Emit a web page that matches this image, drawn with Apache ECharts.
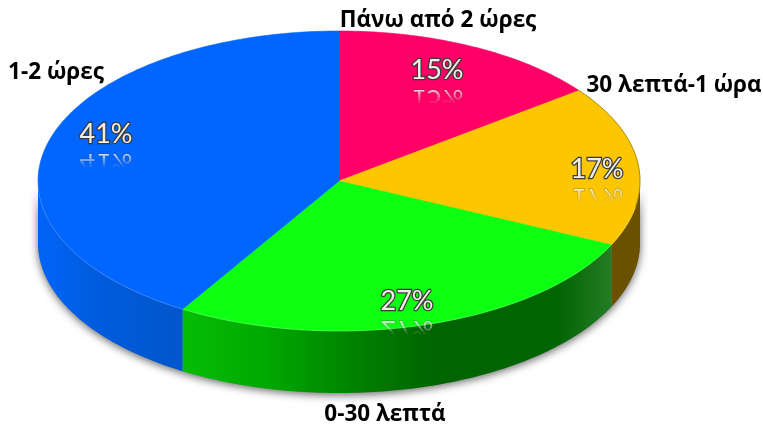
<!DOCTYPE html>
<html>
<head>
<meta charset="utf-8">
<style>
  html, body { margin: 0; padding: 0; background: #fff; }
  #chart { width: 763px; height: 430px; }
</style>
<script src="https://cdn.jsdelivr.net/npm/echarts@6/dist/echarts.min.js"></script>
</head>
<body>
<div id="chart"></div>
<script>
// data, clockwise from 12 o'clock
const categories = ['Πάνω από 2 ώρες', '30 λεπτά-1 ώρα', '0-30 λεπτά', '1-2 ώρες']
const values = [14.7, 17.3, 26.7, 41.3]

const topColors = ['#ff0066', '#fcc700', '#0dff12', '#0066ff']

// tilted disc
const cx = 339
const cy = 181
const rx = 301
const ry = 150
const depth = 62

const namePos = [[438, 21], [674, 86], [385, 415], [56, 73]]
const pctPos = [[437, 70], [597, 169], [407, 301], [106, 134]]

const total = values.reduce((a, b) => a + b, 0)
const chart = echarts.init(document.getElementById('chart'))

function wallFill(i) {
  const grad = (stops) => new echarts.graphic.LinearGradient(38, 0, 640, 0, stops, true)
  if (i === 1) return '#6b5000'
  if (i === 2) {
    return grad([
      { offset: 0.24, color: '#05bd05' },
      { offset: 0.38, color: '#00a800' },
      { offset: 0.55, color: '#007c00' },
      { offset: 0.66, color: '#006400' },
      { offset: 0.86, color: '#006400' },
      { offset: 0.95, color: '#237b23' }
    ])
  }
  if (i === 3) {
    return grad([
      { offset: 0, color: '#0064f8' },
      { offset: 0.1, color: '#005cdc' },
      { offset: 0.24, color: '#0056cc' }
    ])
  }
  return topColors[i]
}

function pt(deg, dy) {
  const a = deg * Math.PI / 180
  return [cx + rx * Math.sin(a), cy - ry * Math.cos(a) + (dy || 0)]
}

function arc(from, to, dy) {
  const pts = []
  const n = Math.max(2, Math.ceil(Math.abs(to - from)))
  for (let k = 0; k <= n; k++) pts.push(pt(from + (to - from) * k / n, dy))
  return pts
}

function pctText(i) {
  const p = pctPos[i]
  const txt = Math.round(values[i] / total * 100) + '%'
  const out = []
  // canvas text takes no gradient, so the mirror fades in clipped bands
  const bands = [0.8, 0.62, 0.45, 0.28, 0.12]
  bands.forEach((alpha, b) => {
    out.push({
      type: 'group',
      clipPath: {
        type: 'rect',
        shape: { x: p[0] - 40, y: p[1] + 18 + b * 3, width: 80, height: 3 }
      },
      children: [{
        type: 'text',
        x: p[0],
        y: p[1] + 29,
        scaleY: -1,
        z2: 5,
        style: {
          text: txt,
          x: 0,
          y: 0,
          align: 'center',
          verticalAlign: 'middle',
          font: '27px Lato',
          fill: 'rgba(255,255,255,' + alpha + ')',
          stroke: 'rgba(60,60,60,' + alpha * 0.4 + ')',
          lineWidth: 1.5,
          strokeFirst: true
        }
      }]
    })
  })
  out.push({
    type: 'text',
    z2: 6,
    style: {
      text: txt,
      x: p[0],
      y: p[1],
      align: 'center',
      verticalAlign: 'middle',
      font: '27px Lato',
      fill: '#f1eee4',
      stroke: '#3a3a3a',
      lineWidth: 2.5,
      strokeFirst: true,
      shadowColor: 'rgba(0,0,0,0.45)',
      shadowBlur: 3
    }
  })
  return out
}

const option = {
  animation: false,
  series: [
    {
      // soft shadow under the disc
      type: 'custom',
      coordinateSystem: 'none',
      silent: true,
      z: 1,
      data: [total],
      renderItem() {
        return {
          type: 'polygon',
          shape: { points: arc(90, 270, 0).concat(arc(270, 90, depth)) },
          style: {
            fill: '#888',
            shadowColor: 'rgba(0,0,0,0.6)',
            shadowBlur: 8,
            shadowOffsetY: 2
          }
        }
      }
    },
    {
      type: 'custom',
      coordinateSystem: 'none',
      silent: true,
      z: 2,
      data: values,
      renderItem(params, api) {
        const i = params.dataIndex
        const before = values.slice(0, i).reduce((a, b) => a + b, 0)
        const start = before / total * 360
        const end = start + api.value(0) / total * 360
        const children = []

        // only the front half of the rim shows
        const from = Math.max(start, 90)
        const to = Math.min(end, 270)
        if (to > from) {
          children.push({
            type: 'polygon',
            shape: { points: arc(from, to, 0).concat(arc(to, from, depth)) },
            style: { fill: wallFill(i) }
          })
        }

        children.push({
          type: 'polygon',
          z2: 2,
          shape: { points: [[cx, cy]].concat(arc(start, end, 0)) },
          style: { fill: topColors[i], stroke: topColors[i], lineWidth: 0.6 }
        })

        // bevel along the rim
        if (to > from) {
          children.push({
            type: 'polyline',
            z2: 3,
            shape: { points: arc(from, to, 0) },
            style: { fill: null, stroke: 'rgba(255,255,255,0.18)', lineWidth: 1 }
          })
        }
        if (start < 90 && end > 60) {
          children.push({
            type: 'polyline',
            z2: 3,
            shape: { points: arc(start, Math.min(end, 100), 0) },
            style: { fill: null, stroke: 'rgba(110,80,0,0.55)', lineWidth: 1 }
          })
        }

        return {
          type: 'group',
          children: children.concat(pctText(i), [
            {
              type: 'text',
              z2: 6,
              style: {
                text: categories[i],
                x: namePos[i][0],
                y: namePos[i][1],
                align: 'center',
                verticalAlign: 'middle',
                font: 'bold 22.5px "Open Sans"',
                fill: '#000'
              }
            }
          ])
        }
      }
    }
  ]
}

chart.setOption(option)
</script>
</body>
</html>
